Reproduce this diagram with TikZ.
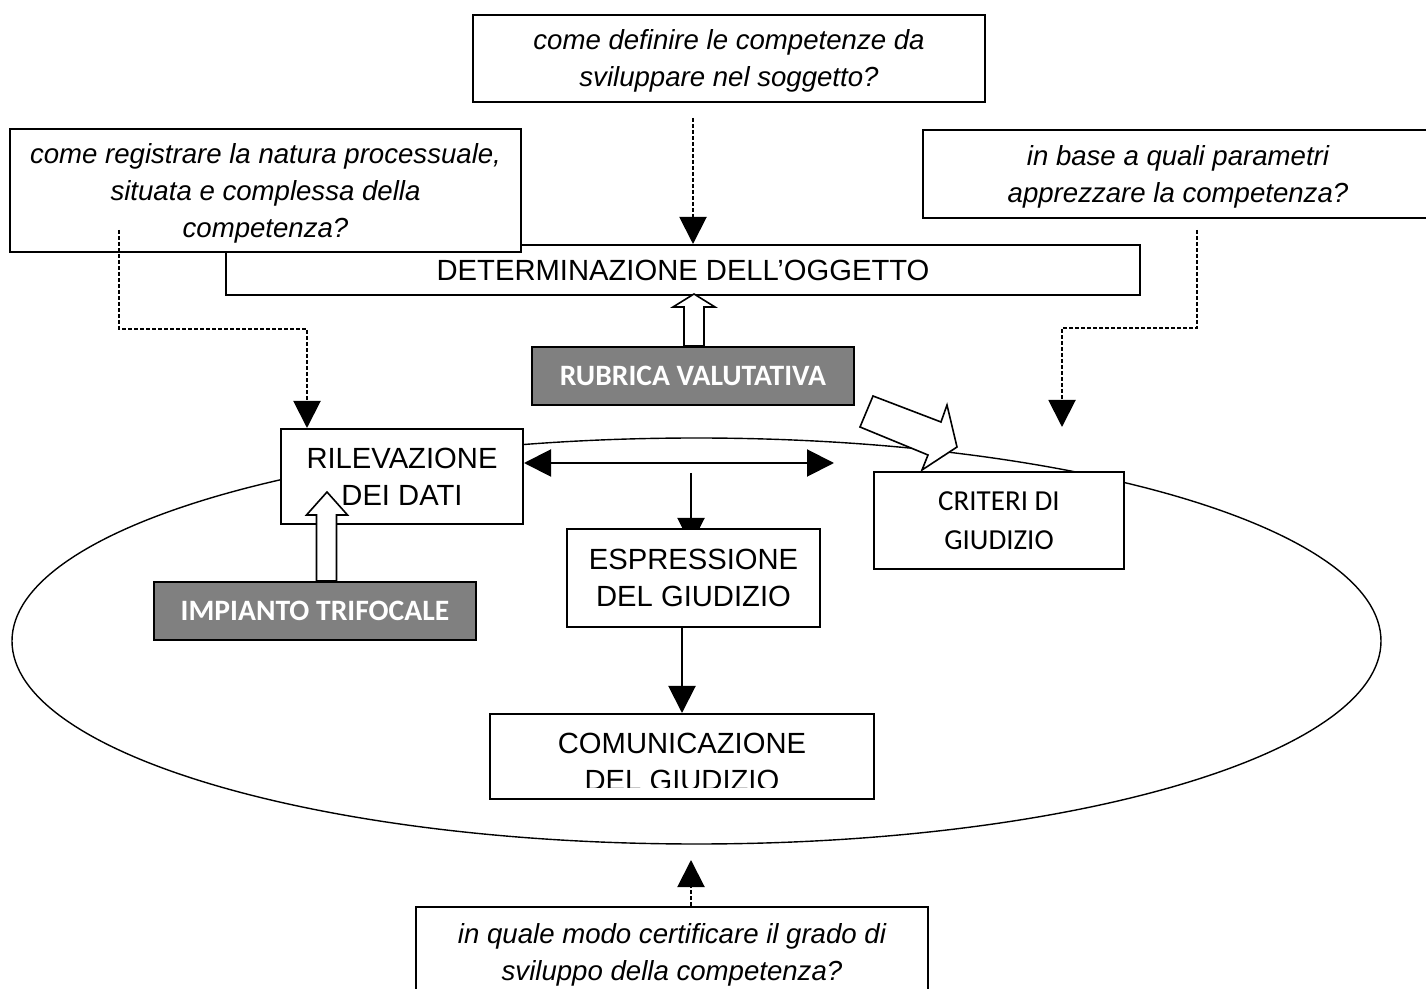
\documentclass[tikz,border=0pt]{standalone}
\usepackage{fontspec}
\setmainfont{Liberation Sans}
\newfontfamily\calibri{Carlito}
\usepackage{tikz}
\usetikzlibrary{calc}
\usetikzlibrary{arrows.meta}
\usetikzlibrary{positioning}
\definecolor{boxgray}{RGB}{128,128,128}

\begin{document}
\begin{tikzpicture}[x=0.5pt,y=-0.5pt,
  box/.style={draw,line width=1pt,fill=white,inner sep=0pt,align=center,font=\fontsize{14.6}{18.5}\selectfont},
  quest/.style={box,text depth=0pt,font=\fontsize{13.8}{18.5}\selectfont\itshape},
  crbox/.style={box,font=\calibri\fontsize{14.5}{19.5}\selectfont},
  graybox/.style={draw,line width=1pt,fill=boxgray,text=white,inner sep=0pt,font=\calibri\bfseries\fontsize{14.8}{17}\selectfont},
  tri/.style={-{Triangle[length=13.5pt,width=13.5pt]},line width=1pt},
  tritwo/.style={{Triangle[length=13.5pt,width=13.5pt]}-{Triangle[length=13.5pt,width=13.5pt]},line width=1pt},
  dotarr/.style={tri,dash pattern=on 2pt off 1pt},
  blockarrow/.style={draw,fill=white,line width=0.8pt,line join=miter},
  ring/.style={line width=0.7pt}]

\useasboundingbox (0,0) rectangle (1426,989);

\draw[ring] (696.5,641) ellipse [x radius=342.25pt,y radius=101.5pt];

\node[box,minimum width=457pt,minimum height=25pt] (ogg) at (683,270) {DETERMINAZIONE DELL’OGGETTO};

\node[quest,minimum width=256pt,minimum height=43.5pt] (qobj) at (729,58.5) {come definire le competenze da\\sviluppare nel soggetto?};
\node[quest,minimum width=255.5pt,minimum height=61.5pt] (qproc) at (265.5,190.5) {come registrare la natura processuale,\\situata e complessa della\\competenza?};
\node[quest,minimum width=255pt,minimum height=44pt] (qparam) at (1178,174) {in base a quali parametri\\apprezzare la competenza?};

\node[graybox,minimum width=161pt,minimum height=29pt] (rubrica) at (693,376) {RUBRICA VALUTATIVA};
\draw[blockarrow] ($(rubrica.north)+(-9,0)$) -- ++(0,-39) -- ++(-11,0) -- ++(21,-13) -- ++(21,13) -- ++(-11,0) -- ++(0,39) -- cycle;

\coordinate (dl) at (119,230);
\coordinate (dr) at (1197,230);
\coordinate (drend) at (1062,427);
\draw[dotarr] ($(qobj.south -| rubrica.north)+(0,15)$) -- (ogg.north -| rubrica.north);

% bent arrow towards the criteria
\draw[blockarrow] (873,396) -- (941,422) -- (947,405) -- (957,447) -- (922,470) -- (928,455) -- (860,427) -- cycle;

\coordinate (darrR) at (834,463);
\coordinate (gstart) at (691,473);
\coordinate (gend) at (691,545);
\draw[tri] (gstart) -- (gend);

\node[box,minimum width=121pt,minimum height=47.5pt] (ril) at (402,476.5) {RILEVAZIONE\\DEI DATI};
\node[crbox,minimum width=125pt,minimum height=48.5pt] (crit) at (999,520.5) {CRITERI DI\\GIUDIZIO};
\node[box,minimum width=126.5pt,minimum height=49pt] (espr) at (693.5,578) {ESPRESSIONE\\DEL GIUDIZIO};

\draw[tritwo] (ril.east |- darrR) -- (darrR);
\draw[dotarr] (dl) -- ++(0,99) -| ($(ril.north west)+(27,0)$);
\draw[dotarr] (dr) -- ++(0,98) -| (drend);

\node[graybox,minimum width=161pt,minimum height=29pt] (impianto) at (315,611) {IMPIANTO TRIFOCALE};
\draw[blockarrow] ($(impianto.north)+(1.5,0)$) -- ++(0,-66) -- ++(-10,0) -- ++(20.5,-23) -- ++(20.5,23) -- ++(-11,0) -- ++(0,66) -- cycle;

\node[box,minimum width=192pt,minimum height=42.5pt] (comun) at (682,756.5) {};
\begin{scope}
\clip (comun.north west) rectangle ($(comun.south east)+(0,-12)$);
\node[align=center,font=\fontsize{14.6}{18.5}\selectfont] (comuntxt) at ($(comun)+(0,5)$) {COMUNICAZIONE\\DEL GIUDIZIO};
\end{scope}
\draw[tri] (espr.south -| comun.north) -- (comun.north);

\node[quest,minimum width=256pt,minimum height=45pt] (qcert) at (672,952) {in quale modo certificare il grado di\\sviluppo della competenza?};
\coordinate (dbot) at (691,860);
\draw[dotarr] (qcert.north -| dbot) -- (dbot);

\end{tikzpicture}
\end{document}
